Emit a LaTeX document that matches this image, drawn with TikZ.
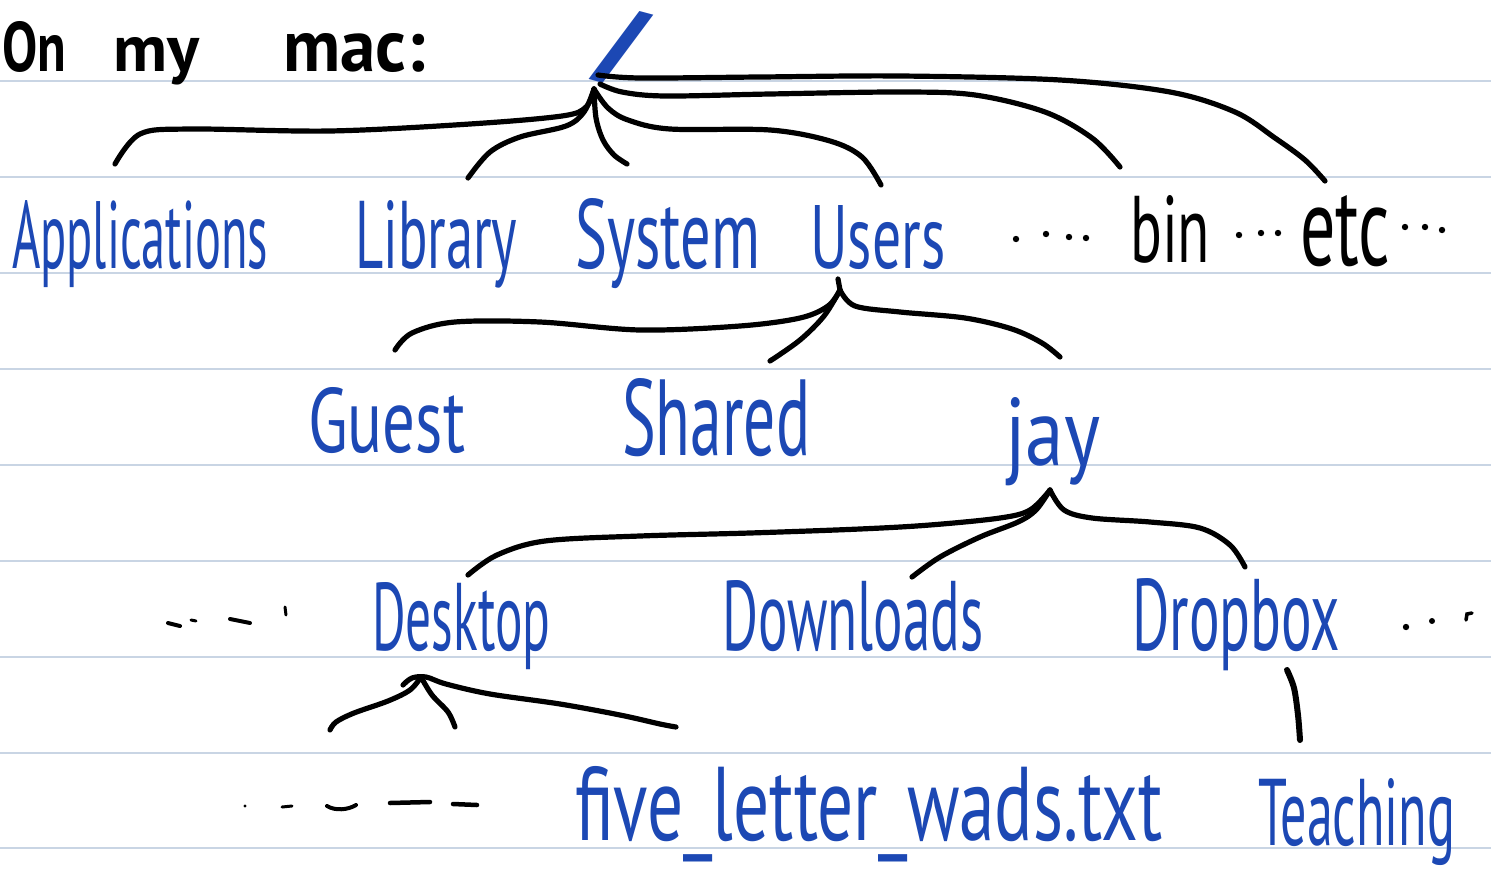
\documentclass[tikz,border=0pt]{standalone}
\usepackage{fontspec}
\setmainfont{PT Sans}
\usepackage{graphicx}
\definecolor{ink}{RGB}{28,72,180}
\definecolor{ruling}{RGB}{201,213,228}
% word set to a given width and height above the baseline (in pt)
\newcommand\hw[3]{\resizebox{#1pt}{#2pt}{#3}}
\begin{document}
\begin{tikzpicture}[x=1pt,y=-1pt,
  lbl/.style={inner sep=0pt, anchor=base west, text=ink},
  blk/.style={inner sep=0pt, anchor=base west, text=black},
  brace/.style={draw=black, line width=5.2pt, line cap=round, line join=round},
  ruleline/.style={draw=ruling, line width=1.8pt},
  dotmark/.style={fill=black, draw=none},
  dashmark/.style={draw=black, line width=4pt, line cap=round}]
\useasboundingbox (0,0) rectangle (1491,883);
\clip (0,0) rectangle (1491,883);
\fill[white] (0,0) rectangle (1491,883);

% notebook ruling
\foreach \yy in {81,177,273,369,465,561,657,753,848}
  \draw[ruleline] (0,\yy) -- (1491,\yy);

% heading
\node[blk] (hOn)  at (2,71)   {\hw{64}{50}{\bfseries On}};
\node[blk] (hMy)  at (113,72) {\hw{86}{34}{\bfseries my}};
\node[blk] (hMac) at (283,72) {\hw{142}{38}{\bfseries mac:}};

% root directory
\node[lbl] (root) at (592,72) {\hw{58}{60}{\bfseries /}};

% level 1
\node[lbl] (apps) at (12,268)   {\hw{256}{68}{Applications}};
\node[lbl] (lib)  at (355,268)  {\hw{162}{68}{Library}};
\node[lbl] (sys)  at (575,268)  {\hw{185}{70}{System}};
\node[lbl] (usr)  at (810,268)  {\hw{135}{63}{Users}};
\node[blk] (bin)  at (1130,262) {\hw{80}{67}{bin}};
\node[blk] (etc)  at (1300,265) {\hw{90}{70}{etc}};

% level 2
\node[lbl] (guest)  at (308,452)  {\hw{157}{65}{Guest}};
\node[lbl] (shared) at (622,455)  {\hw{188}{77}{Shared}};
\node[lbl] (jay)    at (1005,465) {\hw{95}{68}{jay}};

% level 3
\node[lbl] (desk) at (372,650)  {\hw{178}{68}{Desktop}};
\node[lbl] (down) at (722,650)  {\hw{261}{70}{Downloads}};
\node[lbl] (drop) at (1132,650) {\hw{208}{72}{Dropbox}};

% level 4
\node[lbl] (five)  at (575,840)  {\hw{587}{74}{five\_letter\_wads.txt}};
\node[lbl] (teach) at (1258,845) {\hw{197}{67}{Teaching}};

% brace apexes and tips
\coordinate (rootA) at (594,89);
\coordinate (rootB) at (600,84);
\coordinate (rootC) at (598,75);
\coordinate (usrA)  at (840,290);
\coordinate (jayA)  at (1050,490);
\coordinate (deskA) at (421,677);

\coordinate (appsT)  at (115,164);
\coordinate (libT)   at (468,178);
\coordinate (sysT)   at (627,164);
\coordinate (usrT)   at (881,185);
\coordinate (binT)   at (1120,167);
\coordinate (etcT)   at (1325,181);
\coordinate (guestT) at (395,350);
\coordinate (sharT)  at (770,361);
\coordinate (jayT)   at (1060,357);
\coordinate (deskT)  at (468,575);
\coordinate (downT)  at (912,577);
\coordinate (dropT)  at (1245,567);
\coordinate (leftT)  at (330,730);
\coordinate (midT)   at (455,727);
\coordinate (fiveT)  at (676,727);
\coordinate (teachT) at (1300,740);

% root "/" brace
\draw[brace] plot[smooth, tension=0.55] coordinates
  {(rootA) (586,107) (562,116) (470,124) (330,131) (190,129) (140,134) (appsT)};
\draw[brace] plot[smooth, tension=0.55] coordinates
  {(rootA) (584,112) (566,126) (520,137) (490,152) (libT)};
\draw[brace] plot[smooth, tension=0.55] coordinates
  {(rootA) (596,118) (603,140) (614,155) (sysT)};
\draw[brace] plot[smooth, tension=0.55] coordinates
  {(rootA) (608,108) (628,120) (670,129) (770,130) (830,141) (862,157) (usrT)};
\draw[brace] plot[smooth, tension=0.55] coordinates
  {(rootB) (622,92) (665,96) (770,94) (900,92) (975,95) (1045,112) (1092,138) (binT)};
\draw[brace] plot[smooth, tension=0.55] coordinates
  {(rootC) (640,78) (760,77) (900,76) (1060,80) (1170,92) (1235,112) (1275,138) (1305,160) (etcT)};

% Users brace
\draw[brace] (usrA) -- (838,279);
\draw[brace] plot[smooth, tension=0.55] coordinates
  {(usrA) (828,306) (800,318) (740,326) (640,330) (540,322) (455,322) (412,333) (guestT)};
\draw[brace] plot[smooth, tension=0.55] coordinates
  {(usrA) (824,316) (800,340) (sharT)};
\draw[brace] plot[smooth, tension=0.55] coordinates
  {(usrA) (855,306) (900,312) (965,318) (1012,329) (1042,343) (jayT)};

% jay brace
\draw[brace] plot[smooth, tension=0.55] coordinates
  {(jayA) (1030,510) (1000,518) (930,525) (860,529) (750,533) (640,536) (545,541) (497,555) (deskT)};
\draw[brace] plot[smooth, tension=0.55] coordinates
  {(jayA) (1036,510) (1018,522) (980,537) (940,557) (downT)};
\draw[brace] plot[smooth, tension=0.55] coordinates
  {(jayA) (1064,510) (1092,518) (1150,522) (1200,528) (1230,545) (dropT)};

% Desktop brace
\draw[brace] plot[smooth, tension=0.55] coordinates
  {(403,685) (412,678) (426,677) (446,684) (490,694) (560,704) (620,715) (660,724) (fiveT)};
\draw[brace] plot[smooth, tension=0.55] coordinates
  {(deskA) (410,690) (388,701) (354,713) (336,722) (leftT)};
\draw[brace] plot[smooth, tension=0.55] coordinates
  {(deskA) (432,695) (448,712) (midT)};

% Dropbox -> Teaching
\draw[brace, line width=6pt] plot[smooth, tension=0.55] coordinates
  {(1287,670) (1294,688) (1298,715) (teachT)};

% elided entries, first row
\foreach \px/\py in {1016/239,1046/234,1069/237,1086/238,
                     1239/235,1261/233,1278/233,
                     1405/227,1425/227,1442/230}
  \fill[dotmark] (\px,\py) circle (3.2pt);

% elided entries, Desktop row
\draw[dashmark] (168,623) -- (180,626);
\draw[dashmark, line width=3pt] (191,620) -- (196,621);
\draw[dashmark] (230,619) -- (250,623);
\draw[dashmark, line width=3pt] (285,607) -- (286,615);
\fill[dotmark] (1406,627) circle (3.2pt);
\fill[dotmark] (1432,621) circle (3pt);
\draw[dashmark, line width=3.5pt] (1466,620) -- (1467,614) -- (1472,613);

% elided entries, bottom row
\fill[dotmark] (245,806) circle (1.6pt);
\draw[dashmark, line width=3pt] (282,807) -- (292,806);
\draw[dashmark] (327,806) .. controls (335,811) and (348,810) .. (356,805);
\draw[dashmark, line width=4.5pt] (390,803) -- (430,802);
\draw[dashmark, line width=4.5pt] (453,804) -- (477,805);
\end{tikzpicture}
\end{document}
